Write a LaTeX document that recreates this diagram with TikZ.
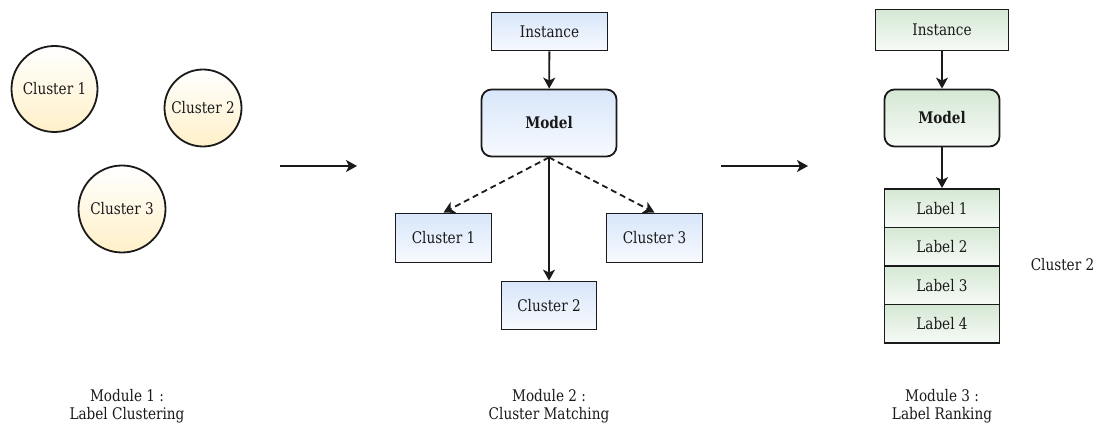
\documentclass[tikz,border=0pt]{standalone}
\usepackage{fontspec}
\setmainfont{DejaVu Serif}[FakeStretch=0.85]
\usetikzlibrary{arrows.meta}
\definecolor{linegray}{HTML}{1A1A1A}
\definecolor{clusteryellow}{HTML}{FFF0C8}
\definecolor{matchblue}{HTML}{D8E6FA}
\definecolor{rankgreen}{HTML}{D5E8D4}
\tikzset{
  every node/.style={font=\fontsize{16}{18}\selectfont,text=linegray},
  clus/.style={circle,draw=linegray,line width=1.8pt,inner sep=0pt,
    top color=white,bottom color=clusteryellow},
  bluebox/.style={rectangle,draw=linegray,line width=1.8pt,
    top color=matchblue,bottom color=matchblue!20},
  greenbox/.style={rectangle,draw=linegray,line width=1.8pt,
    top color=rankgreen,bottom color=rankgreen!20},
  link/.style={draw=linegray,line width=1.8pt,-{Stealth[length=11pt,width=12pt,inset=3pt]}},
}

\begin{document}
\begin{tikzpicture}[x=1pt,y=-1pt]
    \useasboundingbox (0,0) rectangle (1096,425);
    % module 1
    \node (k1) at (54.5,89) [clus,minimum size=86pt] {Cluster 1};
    \node (k2) at (203,108) [clus,minimum size=77pt] {Cluster 2};
    \node (k3) at (122,209) [clus,minimum size=87pt] {Cluster 3};
    \node (m1) at (127,406) [align=center] {Module 1 :\\Label Clustering};
    \coordinate (g1) at (280,166);
    \coordinate (g2) at (357,166);
    \draw[link] (g1) -- (g2);
    % module 2
    \node (inst2) at (549.5,31.5) [bluebox,minimum width=116pt,minimum height=38pt] {Instance};
    \node (model2) at (549,123) [bluebox,rounded corners=10pt,minimum width=135pt,minimum height=67pt] {\bfseries Model};
    \node (c1) at (443.5,238) [bluebox,minimum width=96pt,minimum height=49pt] {Cluster 1};
    \node (c2) at (549,305.5) [bluebox,minimum width=95pt,minimum height=48pt] {Cluster 2};
    \node (c3) at (654.5,238) [bluebox,minimum width=96pt,minimum height=49pt] {Cluster 3};
    \node (m2) at (549,406) [align=center] {Module 2 :\\Cluster Matching};
    \draw[link] (inst2) -- (model2);
    \draw[link] (model2.south) -- (c2);
    \draw[link,dash pattern=on 6pt off 4pt] (model2.south) -- (c1.north);
    \draw[link,dash pattern=on 6pt off 4pt] (model2.south) -- (c3.north);
    \coordinate (g3) at (721,166);
    \coordinate (g4) at (808,166);
    \draw[link] (g3) -- (g4);
    % module 3
    \node (inst3) at (942,30) [greenbox,minimum width=133pt,minimum height=41pt] {Instance};
    \node (model3) at (942,118) [greenbox,rounded corners=10pt,minimum width=115pt,minimum height=57pt] {\bfseries Model};
    \node (l1) at (942,208.25) [greenbox,minimum width=115pt,minimum height=38.5pt] {Label 1};
    \node (l2) at (942,246.75) [greenbox,minimum width=115pt,minimum height=38.5pt] {Label 2};
    \node (l3) at (942,285.25) [greenbox,minimum width=115pt,minimum height=38.5pt] {Label 3};
    \node (l4) at (942,323.75) [greenbox,minimum width=115pt,minimum height=38.5pt] {Label 4};
    \node (t2) at (1062.5,265) {Cluster 2};
    \node (m3) at (942,406) [align=center] {Module 3 :\\Label Ranking};
    \draw[link] (inst3) -- (model3);
    \draw[link] (model3) -- (l1);
  \end{tikzpicture}
\end{document}
